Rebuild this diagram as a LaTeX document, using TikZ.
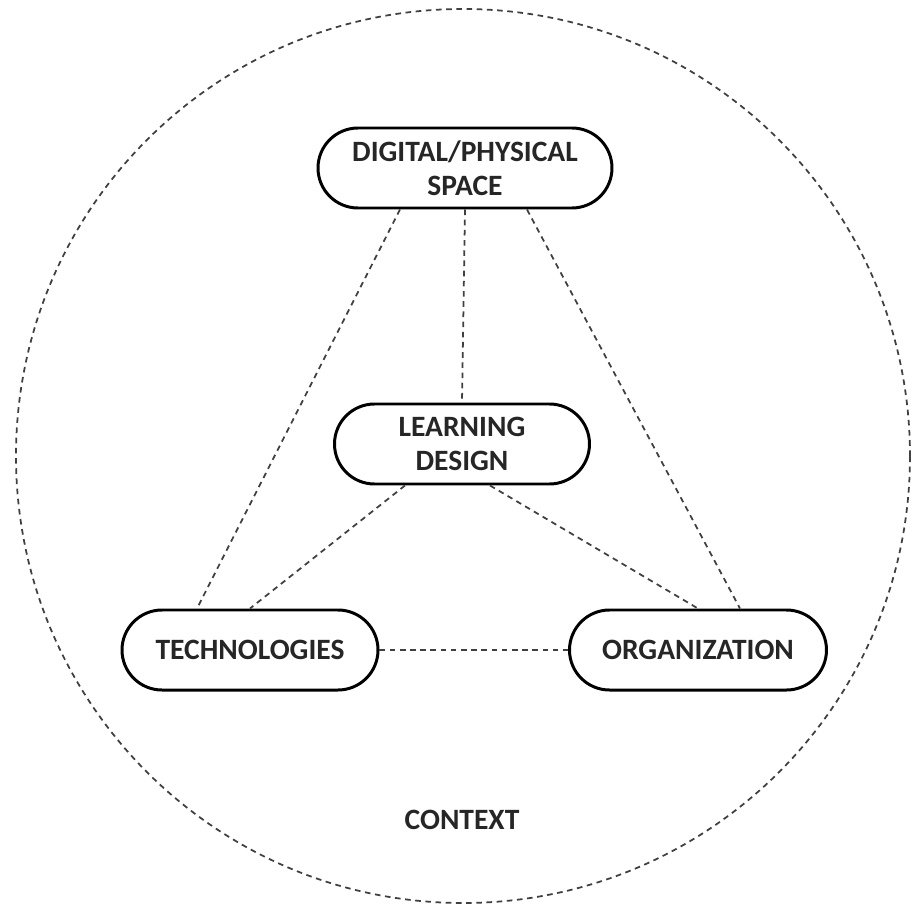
\documentclass[tikz,border=0pt]{standalone}
\usepackage{fontspec}
\setmainfont{Carlito}
\usetikzlibrary{shapes.misc}

\begin{document}
\begin{tikzpicture}[
  every node/.style={font=\bfseries\fontsize{16.8}{19.5}\selectfont,align=center,text=black!85},
  box/.style={draw,line width=1.7pt,rounded rectangle,minimum height=1.6cm,inner sep=0pt},
  link/.style={line width=1pt,black!75,dash pattern=on 3.2pt off 2.6pt}]

\useasboundingbox (-9.26,-9.0) rectangle (9.04,9.12);
\draw[link] (0,0) circle (8.94);

\node[box,minimum width=5.88cm] (space) at (0.04,5.76) {DIGITAL/PHYSICAL\\SPACE};
\node[box,minimum width=5.1cm] (design) at (-0.02,0.24) {LEARNING\\DESIGN};
\node[box,minimum width=5.12cm] (tech) at (-4.26,-3.88) {TECHNOLOGIES};
\node[box,minimum width=5.14cm] (org) at (4.7,-3.88) {ORGANIZATION};
\node (context) at (-0.02,-7.28) {CONTEXT};

% links between the four parts
\draw[link] ([xshift=-1.3cm]space.south) -- ([xshift=-1.06cm]tech.north);
\draw[link] (space.south) -- (design.north);
\draw[link] ([xshift=1.24cm]space.south) -- ([xshift=0.84cm]org.north);
\draw[link] ([xshift=-1.14cm]design.south) -- (tech.north);
\draw[link] ([xshift=0.56cm]design.south) -- (org.north);
\draw[link] (tech.east) -- (org.west);

\end{tikzpicture}
\end{document}
